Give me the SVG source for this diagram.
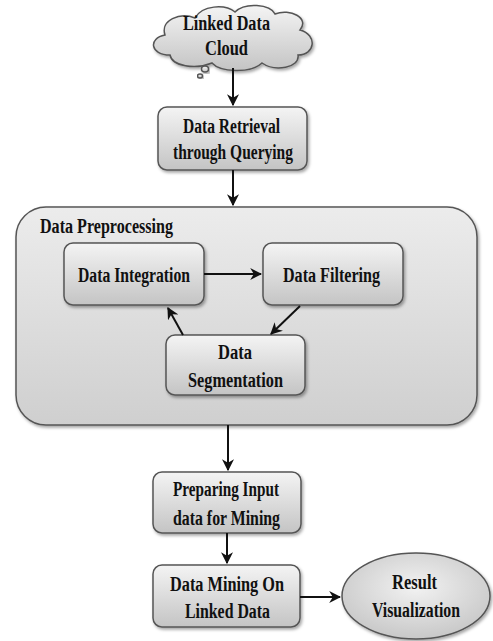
<svg xmlns="http://www.w3.org/2000/svg" width="493" height="641" viewBox="0 0 493 641">
<defs>
<linearGradient id="g" x1="0" y1="0" x2="0" y2="1">
<stop offset="0" stop-color="#f4f4f4"/><stop offset="1" stop-color="#c4c4c4"/>
</linearGradient>
<linearGradient id="gb" x1="0" y1="0" x2="0" y2="1">
<stop offset="0" stop-color="#ececec"/><stop offset="1" stop-color="#cfcfcf"/>
</linearGradient>
<radialGradient id="ge" cx="0.5" cy="0.4" r="0.6">
<stop offset="0" stop-color="#f2f2f2"/><stop offset="1" stop-color="#c8c8c8"/>
</radialGradient>
<filter id="sh" x="-10%" y="-10%" width="130%" height="130%">
<feDropShadow dx="1.5" dy="2" stdDeviation="1.5" flood-color="#000" flood-opacity="0.35"/>
</filter>
<marker id="ah" viewBox="0 0 10 10" refX="9" refY="5" markerWidth="6" markerHeight="6" orient="auto" markerUnits="strokeWidth">
<path d="M0,0 L10,5 L0,10 L3,5 Z" fill="#111"/>
</marker>
<style>
.box{fill:url(#g);stroke:#555;stroke-width:1.5;filter:url(#sh)}
.t{font-family:'Liberation Serif','DejaVu Serif',serif;font-size:20px;font-weight:bold;fill:#111;text-anchor:middle}
.c{stroke:#111;stroke-width:2;fill:none;marker-end:url(#ah)}
</style>
</defs>
<rect width="493" height="641" fill="#fff"/>
<g id="cloud">
<path class="box" d="M170,55 C150,55 148,38 165,35 C160,20 180,12 195,18 C202,5 225,4 235,12 C245,2 270,4 275,14 C290,8 310,18 300,30 C318,35 315,55 298,55 C300,68 275,72 262,63 C250,74 220,72 212,63 C195,70 172,66 170,55 Z"/>
<ellipse class="box" cx="205" cy="69" rx="3.5" ry="3"/>
<ellipse class="box" cx="200" cy="76" rx="2.5" ry="2"/>
<text class="t" x="226.5" y="30" textLength="87" lengthAdjust="spacingAndGlyphs">Linked Data</text>
<text class="t" x="226.5" y="55" textLength="43" lengthAdjust="spacingAndGlyphs">Cloud</text>
</g>
<g id="retrieval">
<rect class="box" x="158" y="107" width="149" height="63" rx="9"/>
<text class="t" x="231.5" y="133" textLength="97" lengthAdjust="spacingAndGlyphs">Data Retrieval</text>
<text class="t" x="233" y="159" textLength="120" lengthAdjust="spacingAndGlyphs">through Querying</text>
</g>
<g id="preprocessing">
<rect class="box" x="16" y="207" width="461" height="218" rx="30" style="fill:url(#gb)"/>
<text class="t" x="40" y="233" style="text-anchor:start" textLength="133" lengthAdjust="spacingAndGlyphs">Data Preprocessing</text>
</g>
<g id="integration">
<rect class="box" x="64" y="243" width="140" height="62" rx="9"/>
<text class="t" x="134" y="282" textLength="112" lengthAdjust="spacingAndGlyphs">Data Integration</text>
</g>
<g id="filtering">
<rect class="box" x="263" y="243" width="140" height="62" rx="9"/>
<text class="t" x="331.5" y="282" textLength="97" lengthAdjust="spacingAndGlyphs">Data Filtering</text>
</g>
<g id="segmentation">
<rect class="box" x="166" y="335" width="139" height="60" rx="9"/>
<text class="t" x="235" y="359" textLength="34" lengthAdjust="spacingAndGlyphs">Data</text>
<text class="t" x="235.5" y="387" textLength="95" lengthAdjust="spacingAndGlyphs">Segmentation</text>
</g>
<g id="preparing">
<rect class="box" x="153" y="472" width="148" height="61" rx="9"/>
<text class="t" x="226" y="496" textLength="106" lengthAdjust="spacingAndGlyphs">Preparing Input</text>
<text class="t" x="226.5" y="525" textLength="107" lengthAdjust="spacingAndGlyphs">data for Mining</text>
</g>
<g id="mining">
<rect class="box" x="153" y="565" width="147" height="62" rx="9"/>
<text class="t" x="227" y="591" textLength="114" lengthAdjust="spacingAndGlyphs">Data Mining On</text>
<text class="t" x="227.5" y="618" textLength="85" lengthAdjust="spacingAndGlyphs">Linked Data</text>
</g>
<g id="result">
<ellipse class="box" cx="416" cy="596" rx="74" ry="43" style="fill:url(#ge)"/>
<text class="t" x="414.5" y="589" textLength="45" lengthAdjust="spacingAndGlyphs">Result</text>
<text class="t" x="416" y="617" textLength="88" lengthAdjust="spacingAndGlyphs">Visualization</text>
</g>
<g id="connectors">
<line class="c" x1="233" y1="68" x2="233" y2="105"/>
<line class="c" x1="233" y1="170" x2="233" y2="205"/>
<line class="c" x1="204" y1="274" x2="261" y2="274"/>
<line class="c" x1="300" y1="306" x2="271" y2="334"/>
<line class="c" x1="183" y1="335" x2="168" y2="308"/>
<line class="c" x1="228" y1="425" x2="228" y2="470"/>
<line class="c" x1="227" y1="533" x2="227" y2="563"/>
<line class="c" x1="300" y1="597" x2="340" y2="597"/>
</g>
</svg>
